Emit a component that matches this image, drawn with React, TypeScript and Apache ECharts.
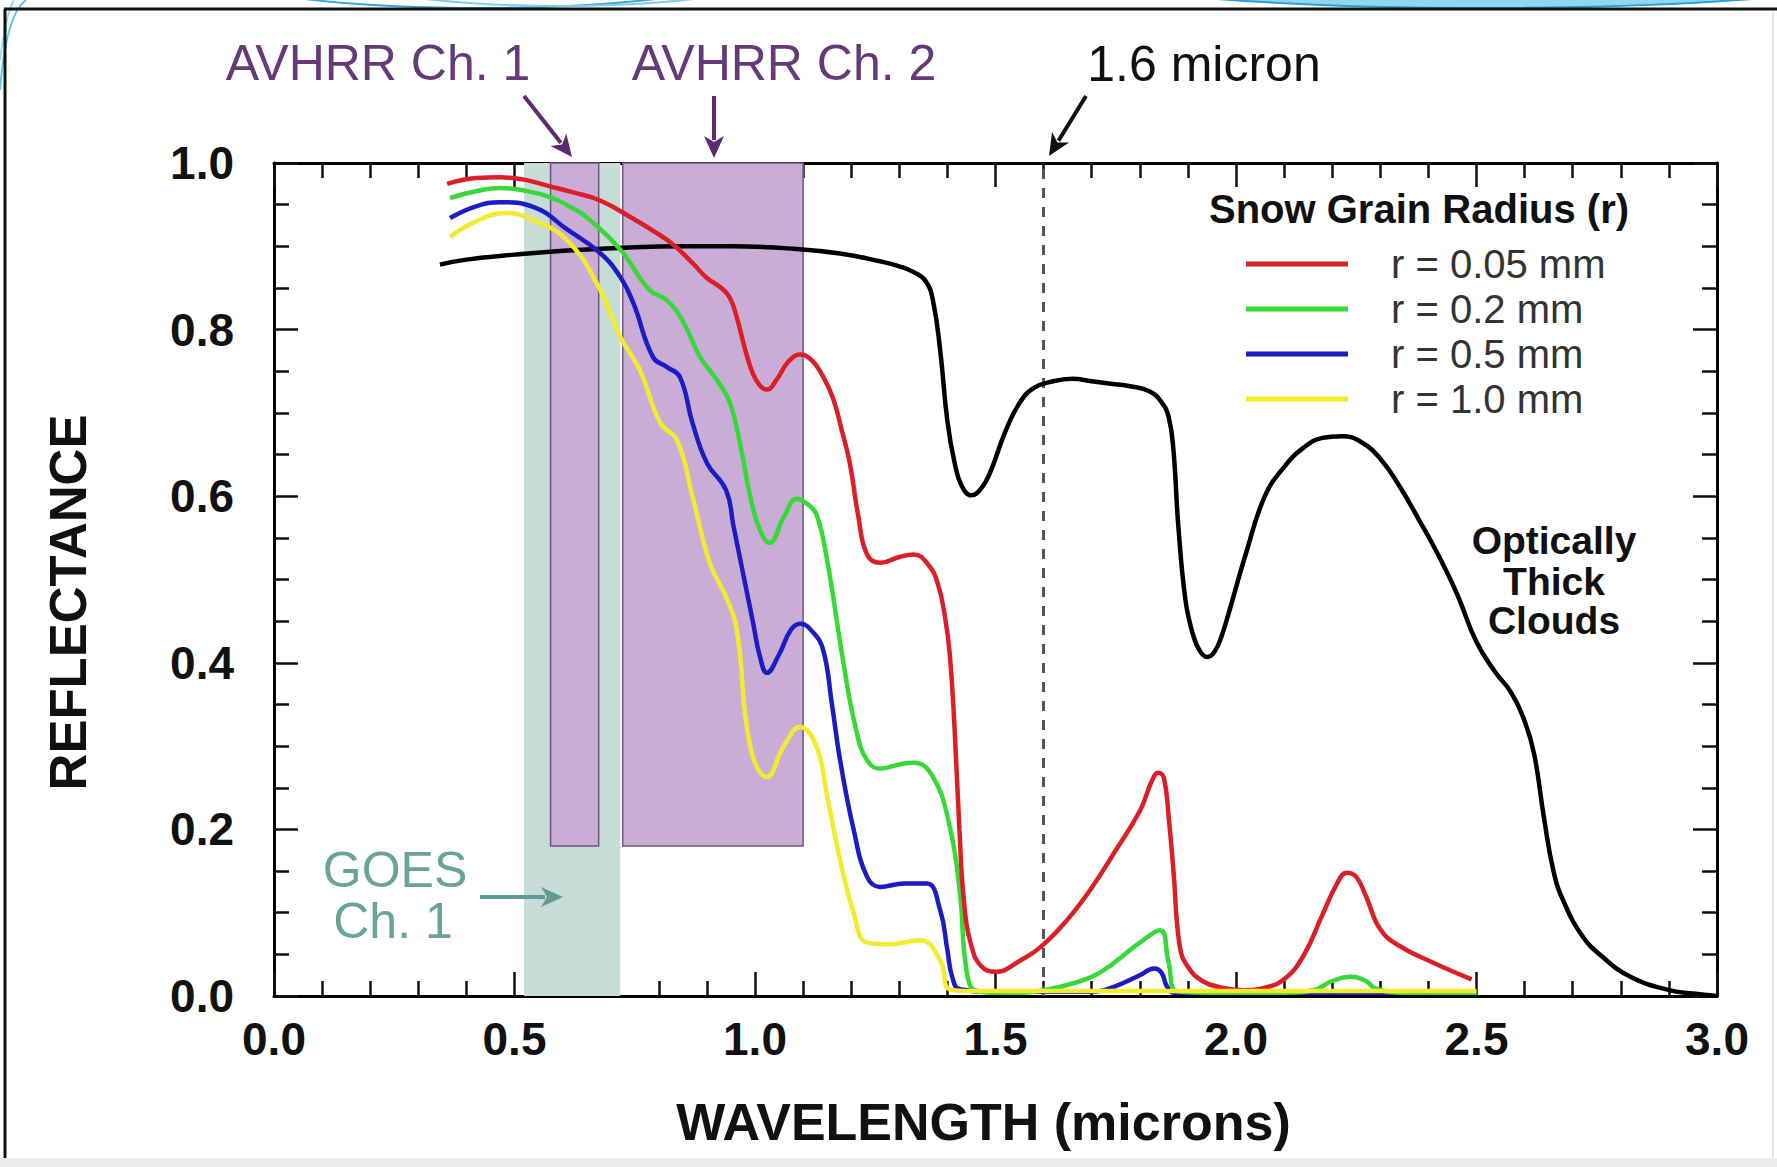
import React, { useEffect, useRef } from "react";
import * as echarts from "echarts";

// ---------- tick labels ----------
const xTickLabels = ["0.0", "0.5", "1.0", "1.5", "2.0", "2.5", "3.0"];
const yTickLabels = ["0.0", "0.2", "0.4", "0.6", "0.8", "1.0"];

// ---------- optically thick clouds ----------
const cloudX = [0.345, 0.40, 0.50, 0.61, 0.75, 0.85, 0.95, 1.08, 1.18, 1.26, 1.30, 1.33, 1.355, 1.37, 1.385, 1.40, 1.415, 1.43, 1.45, 1.47, 1.49, 1.52, 1.55, 1.58, 1.62, 1.66, 1.70, 1.74, 1.78, 1.82, 1.845, 1.86, 1.87, 1.88, 1.895, 1.91, 1.925, 1.94, 1.955, 1.97, 1.99, 2.02, 2.06, 2.10, 2.14, 2.18, 2.22, 2.26, 2.30, 2.34, 2.38, 2.42, 2.46, 2.50, 2.54, 2.57, 2.60, 2.62, 2.64, 2.66, 2.68, 2.72, 2.76, 2.82, 2.90, 2.95, 3.0];
const cloudY = [0.878, 0.884, 0.890, 0.895, 0.899, 0.900, 0.900, 0.897, 0.891, 0.882, 0.876, 0.869, 0.858, 0.835, 0.775, 0.690, 0.640, 0.612, 0.601, 0.609, 0.630, 0.677, 0.712, 0.730, 0.738, 0.741, 0.738, 0.735, 0.732, 0.726, 0.713, 0.695, 0.655, 0.565, 0.475, 0.435, 0.414, 0.407, 0.413, 0.432, 0.470, 0.530, 0.600, 0.635, 0.658, 0.670, 0.672, 0.665, 0.645, 0.612, 0.572, 0.530, 0.482, 0.425, 0.388, 0.366, 0.330, 0.290, 0.215, 0.150, 0.115, 0.072, 0.048, 0.023, 0.007, 0.003, 0.0];

// ---------- snow, r = 0.05 mm ----------
const r005X = [0.36, 0.42, 0.47, 0.52, 0.574, 0.62, 0.678, 0.747, 0.79, 0.83, 0.87, 0.90, 0.93, 0.948, 0.962, 0.98, 0.995, 1.01, 1.025, 1.045, 1.07, 1.094, 1.12, 1.14, 1.162, 1.18, 1.197, 1.215, 1.233, 1.26, 1.30, 1.33, 1.36, 1.38, 1.395, 1.405, 1.415, 1.425, 1.435, 1.45, 1.47, 1.50, 1.55, 1.60, 1.65, 1.70, 1.75, 1.80, 1.825, 1.838, 1.85, 1.86, 1.87, 1.883, 1.90, 1.93, 1.97, 2.015, 2.06, 2.10, 2.14, 2.18, 2.21, 2.23, 2.25, 2.27, 2.30, 2.34, 2.41, 2.49];
const r005Y = [0.975, 0.982, 0.983, 0.980, 0.972, 0.965, 0.955, 0.933, 0.918, 0.902, 0.880, 0.862, 0.850, 0.838, 0.815, 0.775, 0.748, 0.733, 0.728, 0.740, 0.762, 0.770, 0.762, 0.745, 0.718, 0.680, 0.640, 0.575, 0.530, 0.520, 0.527, 0.530, 0.518, 0.495, 0.455, 0.410, 0.320, 0.200, 0.110, 0.060, 0.036, 0.029, 0.042, 0.062, 0.092, 0.130, 0.175, 0.222, 0.258, 0.268, 0.262, 0.215, 0.150, 0.060, 0.035, 0.018, 0.010, 0.007, 0.010, 0.020, 0.048, 0.098, 0.135, 0.148, 0.143, 0.120, 0.080, 0.060, 0.040, 0.020];

// ---------- snow, r = 0.2 mm ----------
const r02X = [0.366, 0.42, 0.47, 0.52, 0.574, 0.62, 0.65, 0.72, 0.78, 0.817, 0.85, 0.886, 0.92, 0.948, 0.97, 0.99, 1.01, 1.03, 1.06, 1.087, 1.11, 1.128, 1.15, 1.183, 1.21, 1.233, 1.26, 1.30, 1.33, 1.37, 1.405, 1.426, 1.44, 1.46, 1.50, 1.55, 1.60, 1.66, 1.717, 1.80, 1.842, 1.86, 1.877, 1.95, 2.10, 2.16, 2.20, 2.237, 2.27, 2.29, 2.35, 2.50];
const r02Y = [0.958, 0.966, 0.970, 0.967, 0.959, 0.946, 0.935, 0.896, 0.848, 0.835, 0.810, 0.767, 0.740, 0.712, 0.660, 0.600, 0.560, 0.544, 0.575, 0.597, 0.590, 0.578, 0.523, 0.403, 0.320, 0.283, 0.273, 0.278, 0.280, 0.263, 0.203, 0.124, 0.030, 0.006, 0.004, 0.004, 0.007, 0.015, 0.028, 0.064, 0.079, 0.040, 0.006, 0.004, 0.004, 0.007, 0.018, 0.023, 0.018, 0.009, 0.004, 0.004];

// ---------- snow, r = 0.5 mm ----------
const r05X = [0.366, 0.42, 0.47, 0.54, 0.61, 0.678, 0.72, 0.747, 0.788, 0.817, 0.844, 0.87, 0.90, 0.94, 0.955, 0.969, 0.996, 1.01, 1.025, 1.05, 1.075, 1.094, 1.12, 1.142, 1.16, 1.177, 1.205, 1.233, 1.26, 1.31, 1.357, 1.385, 1.40, 1.41, 1.426, 1.50, 1.70, 1.75, 1.80, 1.83, 1.845, 1.856, 1.87, 2.50];
const r05Y = [0.934, 0.948, 0.953, 0.947, 0.920, 0.892, 0.863, 0.832, 0.767, 0.755, 0.743, 0.688, 0.640, 0.607, 0.565, 0.525, 0.448, 0.408, 0.388, 0.410, 0.440, 0.447, 0.437, 0.415, 0.350, 0.283, 0.200, 0.143, 0.131, 0.135, 0.135, 0.103, 0.055, 0.023, 0.008, 0.005, 0.005, 0.012, 0.025, 0.033, 0.028, 0.012, 0.004, 0.004];

// ---------- snow, r = 1.0 mm ----------
const r10X = [0.366, 0.42, 0.484, 0.54, 0.61, 0.678, 0.72, 0.761, 0.803, 0.838, 0.87, 0.906, 0.94, 0.962, 0.99, 1.025, 1.06, 1.094, 1.128, 1.15, 1.177, 1.205, 1.233, 1.28, 1.343, 1.385, 1.405, 1.45, 2.50];
const r10Y = [0.911, 0.930, 0.940, 0.931, 0.907, 0.848, 0.791, 0.751, 0.688, 0.667, 0.600, 0.520, 0.479, 0.440, 0.300, 0.263, 0.300, 0.323, 0.299, 0.240, 0.163, 0.100, 0.064, 0.062, 0.067, 0.043, 0.008, 0.006, 0.006];

// ---------- series names / colours ----------
const snowNames = ["r = 0.05 mm", "r = 0.2 mm", "r = 0.5 mm", "r = 1.0 mm"];
const snowColors = ["#dc1f26", "#38d838", "#1c1cc4", "#f2ec2e"];
const snowZ = [6, 5, 4, 7];
const cloudName = "Optically Thick Clouds";

// ---------- spectral bands ----------
const bandNames = ["GOES Ch. 1", "AVHRR Ch. 1", "AVHRR Ch. 2"];
const bandStart = [0.52, 0.575, 0.725];
const bandEnd = [0.72, 0.675, 1.1];
const bandBottom = [0, 0.18, 0.18];
const bandTop = [1, 1, 1];
const bandFill = ["#c6dcd6", "#c9add6", "#c9add6"];
const bandBorder = [0, 1.5, 1.5];
const markerWavelength = [1.6];

const FONT = "'Liberation Sans', Arial, Helvetica, sans-serif";

function pairs(xs: number[], ys: number[]) {
  return xs.map((x, i) => [x, ys[i]]);
}

function arrow(x1: number, y1: number, x2: number, y2: number, color: string) {
  const dx = x2 - x1;
  const dy = y2 - y1;
  const len = Math.sqrt(dx * dx + dy * dy);
  const ux = dx / len;
  const uy = dy / len;
  const hl = 22;
  const hw = 10;
  const bx = x2 - ux * hl;
  const by = y2 - uy * hl;
  const px = -uy * hw;
  const py = ux * hw;
  return [
    {
      type: "line",
      shape: { x1, y1, x2: bx + ux * 4, y2: by + uy * 4 },
      style: { stroke: color, lineWidth: 4 },
      z: 10,
    },
    {
      type: "polygon",
      shape: { points: [[x2, y2], [bx + px, by + py], [bx + ux * 6, by + uy * 6], [bx - px, by - py]] },
      style: { fill: color },
      z: 10,
    },
  ];
}

function axisCommon(showLabel: boolean, majorLen: number, minorSplit: number) {
  return {
    axisLine: { show: true, onZero: false, lineStyle: { color: "#000", width: 3 } },
    axisTick: { show: true, inside: true, length: majorLen, lineStyle: { color: "#111", width: 2.5 } },
    minorTick: { show: true, splitNumber: minorSplit, length: 15, lineStyle: { color: "#111", width: 2.5 } },
    splitLine: { show: false },
    minorSplitLine: { show: false },
    axisLabel: { show: showLabel },
  };
}

export default function App() {
  const ref = useRef<HTMLDivElement>(null);

  useEffect(() => {
    if (!ref.current) return;
    const chart = echarts.init(ref.current, undefined, { renderer: "svg" });

    const snowX = [r005X, r02X, r05X, r10X];
    const snowY = [r005Y, r02Y, r05Y, r10Y];

    const markAreaData = bandNames.map((n, i) => [
      {
        name: n,
        coord: [bandStart[i], bandBottom[i]],
        itemStyle: {
          color: bandFill[i],
          borderColor: "#6f5483",
          borderWidth: bandBorder[i],
        },
      },
      { coord: [bandEnd[i], bandTop[i]] },
    ]);

    const series: any[] = [
      {
        name: cloudName,
        type: "line",
        data: pairs(cloudX, cloudY),
        smooth: 0.45,
        symbol: "none",
        lineStyle: { color: "#000", width: 4.5 },
        itemStyle: { color: "#000" },
        z: 3,
        markArea: {
          silent: true,
          z: 1,
          label: { show: false },
          data: markAreaData,
        },
        markLine: {
          silent: true,
          symbol: "none",
          z: 1,
          label: { show: false },
          lineStyle: { color: "#555", width: 3, type: [10, 9] },
          data: markerWavelength.map((w) => ({ xAxis: w })),
        },
      },
    ];
    snowNames.forEach((n, i) => {
      series.push({
        name: n,
        type: "line",
        data: pairs(snowX[i], snowY[i]),
        smooth: 0.45,
        symbol: "none",
        lineStyle: { color: snowColors[i], width: 4.5 },
        itemStyle: { color: snowColors[i] },
        z: snowZ[i],
      });
    });

    const graphic: any[] = [
      // slide decoration at the top
      { type: "ellipse", shape: { cx: 1485, cy: -62, rx: 540, ry: 70 }, style: { fill: "#8fd6ee", stroke: "#2c9fd4", lineWidth: 2 }, z: 0 },
      { type: "ellipse", shape: { cx: 480, cy: -40, rx: 300, ry: 48 }, style: { fill: null, stroke: "#3aa6d8", lineWidth: 2 }, z: 0 },
      { type: "ellipse", shape: { cx: 560, cy: -44, rx: 260, ry: 50 }, style: { fill: null, stroke: "#7fcbe8", lineWidth: 2 }, z: 0 },
      { type: "bezierCurve", shape: { x1: 0, y1: 90, x2: 26, y2: 0, cpx1: 4, cpy1: 40, cpx2: 12, cpy2: 10 }, style: { fill: null, stroke: "#5cc8e0", lineWidth: 2 }, z: 0 },
      { type: "bezierCurve", shape: { x1: 0, y1: 60, x2: 14, y2: 0, cpx1: 4, cpy1: 30, cpx2: 8, cpy2: 10 }, style: { fill: null, stroke: "#9adcec", lineWidth: 2 }, z: 0 },
      // slide frame
      { type: "rect", shape: { x: 0, y: 1158, width: 1777, height: 9 }, style: { fill: "#ececec" }, z: 0 },
      { type: "line", shape: { x1: 4, y1: 9, x2: 1777, y2: 9 }, style: { stroke: "#111", lineWidth: 3 }, z: 1 },
      { type: "line", shape: { x1: 5, y1: 9, x2: 5, y2: 1158 }, style: { stroke: "#111", lineWidth: 3 }, z: 1 },
      { type: "line", shape: { x1: 1773, y1: 12, x2: 1773, y2: 1158 }, style: { stroke: "#e2e2e2", lineWidth: 2 }, z: 1 },
      // annotations
      { type: "text", x: 378, y: 63, style: { text: "AVHRR Ch. 1", font: `50px ${FONT}`, fill: "#643a78", align: "center", verticalAlign: "middle" }, z: 10 },
      { type: "text", x: 784, y: 63, style: { text: "AVHRR Ch. 2", font: `50px ${FONT}`, fill: "#643a78", align: "center", verticalAlign: "middle" }, z: 10 },
      { type: "text", x: 1204, y: 64, style: { text: "1.6 micron", font: `50px ${FONT}`, fill: "#111", align: "center", verticalAlign: "middle" }, z: 10 },
      ...arrow(524, 96, 572, 157, "#5a2a72"),
      ...arrow(714, 96, 714, 158, "#5a2a72"),
      ...arrow(1086, 96, 1049, 156, "#111"),
      { type: "text", x: 395, y: 870, style: { text: "GOES", font: `50px ${FONT}`, fill: "#6aa397", align: "center", verticalAlign: "middle" }, z: 10 },
      { type: "text", x: 393, y: 921, style: { text: "Ch. 1", font: `50px ${FONT}`, fill: "#6aa397", align: "center", verticalAlign: "middle" }, z: 10 },
      ...arrow(480, 897, 563, 897, "#5e9e92"),
      { type: "text", x: 1554, y: 540, style: { text: "Optically", font: `bold 39px ${FONT}`, fill: "#111", align: "center", verticalAlign: "middle" }, z: 10 },
      { type: "text", x: 1554, y: 581, style: { text: "Thick", font: `bold 39px ${FONT}`, fill: "#111", align: "center", verticalAlign: "middle" }, z: 10 },
      { type: "text", x: 1554, y: 620, style: { text: "Clouds", font: `bold 39px ${FONT}`, fill: "#111", align: "center", verticalAlign: "middle" }, z: 10 },
      { type: "text", x: 1419, y: 209, style: { text: "Snow Grain Radius (r)", font: `bold 40px ${FONT}`, fill: "#111", align: "center", verticalAlign: "middle" }, z: 10 },
    ];

    const option: any = {
      animation: false,
      backgroundColor: "#ffffff",
      textStyle: { fontFamily: FONT },
      grid: { left: 274, right: 60, top: 163, bottom: 171, containLabel: false },
      legend: {
        data: snowNames,
        orient: "vertical",
        left: 1246,
        top: 244,
        padding: 0,
        icon: "rect",
        itemWidth: 102,
        itemHeight: 5,
        itemGap: 5,
        selectedMode: false,
        textStyle: { fontSize: 40, color: "#333", lineHeight: 40, padding: [0, 0, 0, 38], fontFamily: FONT },
      },
      xAxis: [
        {
          type: "value",
          min: 0,
          max: 3,
          interval: 0.5,
          position: "bottom",
          ...axisCommon(true, 24, 5),
          axisLabel: {
            show: true,
            margin: 20,
            fontSize: 46,
            fontWeight: "bold",
            color: "#111",
            fontFamily: FONT,
            formatter: (v: number) => xTickLabels[Math.round(v / 0.5)] ?? "",
          },
          name: "WAVELENGTH (microns)",
          nameLocation: "middle",
          nameGap: 100,
          nameTextStyle: { fontSize: 52, fontWeight: "bold", color: "#111", fontFamily: FONT, padding: [0, 24, 0, 0] },
        },
        {
          type: "value",
          min: 0,
          max: 3,
          interval: 0.5,
          position: "top",
          ...axisCommon(false, 24, 5),
        },
      ],
      yAxis: [
        {
          type: "value",
          min: 0,
          max: 1,
          interval: 0.2,
          position: "left",
          ...axisCommon(true, 24, 4),
          axisLabel: {
            show: true,
            margin: 40,
            fontSize: 46,
            fontWeight: "bold",
            color: "#111",
            fontFamily: FONT,
            formatter: (v: number) => yTickLabels[Math.round(v / 0.2)] ?? "",
          },
          name: "REFLECTANCE",
          nameLocation: "middle",
          nameRotate: 90,
          nameGap: 180,
          nameTextStyle: { fontSize: 51, fontWeight: "bold", color: "#111", fontFamily: FONT, padding: [0, 46, 0, 0] },
        },
        {
          type: "value",
          min: 0,
          max: 1,
          interval: 0.2,
          position: "right",
          ...axisCommon(false, 24, 4),
        },
      ],
      series,
      graphic,
    };

    chart.setOption(option);
    return () => chart.dispose();
  }, []);

  return (
    <div
      ref={ref}
      style={{ position: "fixed", left: 0, top: 0, width: 1777, height: 1167, background: "#fff" }}
    />
  );
}
